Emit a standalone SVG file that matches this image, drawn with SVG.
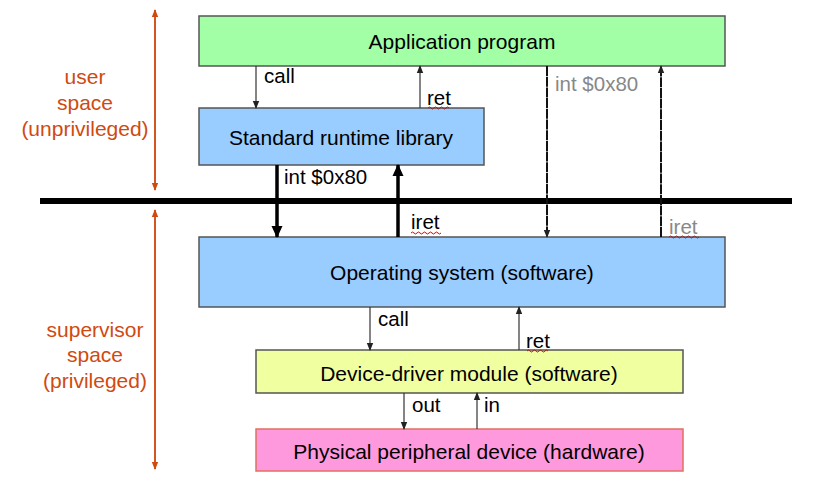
<svg xmlns="http://www.w3.org/2000/svg" width="815" height="485" viewBox="0 0 815 485">
<style>
.box{stroke:#555;stroke-width:1.5}
.t{font-family:"Liberation Sans",Arial,sans-serif;font-size:21px;fill:#000}
.c{text-anchor:middle}
.lbl{font-family:"Liberation Sans",Arial,sans-serif;font-size:20.5px;fill:#000}
.gray{fill:#888}
.side{font-family:"Liberation Sans",Arial,sans-serif;font-size:21px;fill:#d04a10;text-anchor:middle}
.thin{stroke:#333;stroke-width:1.2;fill:none}
.thick{stroke:#000;stroke-width:3.5;fill:none}
.dot{stroke:#111;stroke-width:2;fill:none;stroke-dasharray:10 0.7}
.red{stroke:#d04a10;stroke-width:1.5;fill:none}
.sq{stroke:#e00000;stroke-width:1;fill:none}
</style>
<defs>
<marker id="a" markerWidth="8" markerHeight="8" refX="7" refY="4" orient="auto" markerUnits="userSpaceOnUse"><path d="M0,0.8 L8,4 L0,7.2 Z" fill="#222"/></marker>
<marker id="ab" markerWidth="12" markerHeight="12" refX="11" refY="6" orient="auto" markerUnits="userSpaceOnUse"><path d="M0,0.5 L12,6 L0,11.5 Z" fill="#000"/></marker>
<marker id="ar" markerWidth="8" markerHeight="8" refX="7" refY="4" orient="auto" markerUnits="userSpaceOnUse"><path d="M0,0.8 L8,4 L0,7.2 Z" fill="#d04a10"/></marker>
</defs>

<g id="user-space">
<line class="red" x1="155" y1="190" x2="155" y2="10" marker-end="url(#ar)"/>
<line class="red" x1="155" y1="10" x2="155" y2="190" marker-end="url(#ar)"/>
<text class="side" x="85" y="84">user</text>
<text class="side" x="85" y="110">space</text>
<text class="side" x="85" y="136">(unprivileged)</text>
</g>
<g id="supervisor-space">
<line class="red" x1="155" y1="210" x2="155" y2="469" marker-end="url(#ar)"/>
<line class="red" x1="155" y1="469" x2="155" y2="210" marker-end="url(#ar)"/>
<text class="side" x="95" y="337">supervisor</text>
<text class="side" x="95" y="362">space</text>
<text class="side" x="95" y="388">(privileged)</text>
</g>

<g id="boundary">
<line x1="40" y1="201" x2="792" y2="201" stroke="#000" stroke-width="6"/>
</g>

<g id="app">
<rect class="box" x="199" y="16" width="526" height="50" fill="#a2ffa6"/>
<text class="t c" x="462" y="49">Application program</text>
</g>
<g id="runtime">
<rect class="box" x="199" y="108" width="285" height="57" fill="#99ccff"/>
<text class="t c" x="341" y="145">Standard runtime library</text>
</g>
<g id="os">
<rect class="box" x="199" y="237" width="526" height="70" fill="#99ccff"/>
<text class="t c" x="462" y="280">Operating system (software)</text>
</g>
<g id="driver">
<rect class="box" x="256" y="350" width="427" height="43" fill="#f0ffa0"/>
<text class="t c" x="469" y="381">Device-driver module (software)</text>
</g>
<g id="device">
<rect x="256" y="429" width="427" height="42" fill="#ff99dd" stroke="#e07060" stroke-width="1.5"/>
<text class="t c" x="469" y="459">Physical peripheral device (hardware)</text>
</g>

<g id="connectors">
<line class="thin" x1="256" y1="66" x2="256" y2="108" marker-end="url(#a)"/>
<text class="lbl" x="264" y="83">call</text>
<line class="thin" x1="420" y1="108" x2="420" y2="66" marker-end="url(#a)"/>
<text class="lbl" x="427" y="105">ret</text>
<path class="sq" d="M428,108 q1.5,-2 3,0 t3,0 t3,0 t3,0 t3,0 t3,0 t3,0"/>

<line class="thick" x1="277" y1="165" x2="277" y2="237" marker-end="url(#ab)"/>
<text class="lbl" x="284" y="184">int $0x80</text>
<line class="thick" x1="398" y1="237" x2="398" y2="165" marker-end="url(#ab)"/>
<text class="lbl" x="411" y="229">iret</text>
<path class="sq" d="M411,233 q1.5,-2 3,0 t3,0 t3,0 t3,0 t3,0 t3,0 t3,0 t3,0 t3,0 t3,0"/>

<line class="dot" x1="547" y1="66" x2="547" y2="237" marker-end="url(#a)"/>
<text class="lbl gray" x="555" y="91">int $0x80</text>
<line class="dot" x1="661" y1="237" x2="661" y2="66" marker-end="url(#a)"/>
<text class="lbl gray" x="669" y="234">iret</text>
<path class="sq" d="M669,237 q1.5,-2 3,0 t3,0 t3,0 t3,0 t3,0 t3,0 t3,0 t3,0 t3,0 t3,0"/>

<line class="thin" x1="370" y1="307" x2="370" y2="350" marker-end="url(#a)"/>
<text class="lbl" x="378" y="326">call</text>
<line class="thin" x1="519" y1="350" x2="519" y2="307" marker-end="url(#a)"/>
<text class="lbl" x="526" y="348">ret</text>
<path class="sq" d="M527,351 q1.5,-2 3,0 t3,0 t3,0 t3,0 t3,0 t3,0 t3,0"/>

<line class="thin" x1="404" y1="393" x2="404" y2="429" marker-end="url(#a)"/>
<text class="lbl" x="412" y="412">out</text>
<line class="thin" x1="477" y1="429" x2="477" y2="393" marker-end="url(#a)"/>
<text class="lbl" x="484" y="412">in</text>
</g>
</svg>
